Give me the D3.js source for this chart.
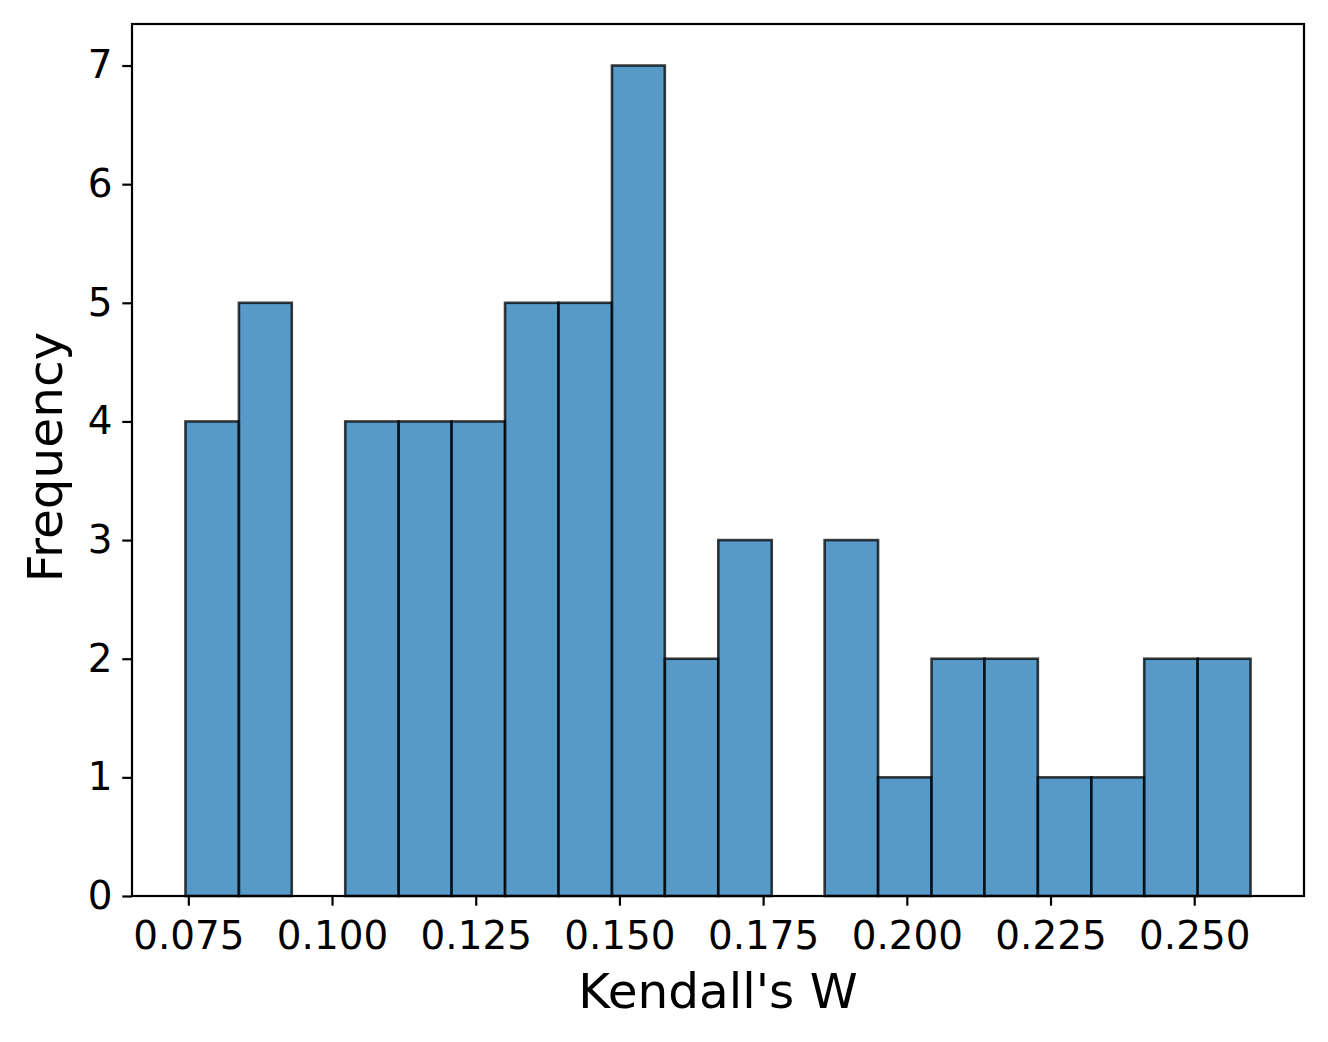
<!DOCTYPE html>
<html>
<head>
<meta charset="utf-8">
<script src="https://cdn.jsdelivr.net/npm/d3@7"></script>
<style>
  html, body { margin: 0; padding: 0; background: #fff; }
  svg { display: block; }
  text { font-family: "DejaVu Sans", sans-serif; fill: #000; }
</style>
</head>
<body>
<svg id="chart" width="1328" height="1042"></svg>
<script>
// Histogram bin edges (21 edges -> 20 bins) and counts
const binEdges = [0.0745, 0.0838, 0.0930, 0.1023, 0.1116, 0.1208, 0.1301, 0.1394, 0.1487, 0.1579,
                  0.1672, 0.1765, 0.1857, 0.1950, 0.2043, 0.2135, 0.2228, 0.2321, 0.2413, 0.2506, 0.2598];
const counts = [4, 5, 0, 4, 4, 4, 5, 5, 7, 2, 3, 0, 3, 1, 2, 2, 1, 1, 2, 2];
const xTicks = [0.075, 0.100, 0.125, 0.150, 0.175, 0.200, 0.225, 0.250];
const yTicks = [0, 1, 2, 3, 4, 5, 6, 7];
const xLabel = "Kendall's W";
const yLabel = "Frequency";

const mLeft = 132, mRight = 1304, mTop = 24, mBottom = 896;
const svg = d3.select("#chart");

const x = d3.scaleLinear().domain([0.0652, 0.2691]).range([mLeft, mRight]);
const y = d3.scaleLinear().domain([0, 7.35]).range([mBottom, mTop]);

const bins = counts.map((c, i) => ({ x0: binEdges[i], x1: binEdges[i + 1], c }));

svg.append("g").selectAll("rect")
  .data(bins.filter(d => d.c > 0))
  .join("rect")
  .attr("x", d => x(d.x0))
  .attr("width", d => x(d.x1) - x(d.x0))
  .attr("y", d => y(d.c))
  .attr("height", d => y(0) - y(d.c))
  .attr("fill", "#1f77b4")
  .attr("fill-opacity", 0.75)
  .attr("stroke", "#000")
  .attr("stroke-opacity", 0.75)
  .attr("stroke-width", 2.6);

// Axes
const fs = 38.9;
const xAxis = d3.axisBottom(x).tickValues(xTicks).tickFormat(d3.format(".3f")).tickSizeOuter(0).tickSize(9.7).tickPadding(15.5);
const yAxis = d3.axisLeft(y).tickValues(yTicks).tickFormat(d3.format("d")).tickSizeOuter(0).tickSize(9.7).tickPadding(9.7);

const gx = svg.append("g").attr("transform", `translate(0,${mBottom})`).call(xAxis);
const gy = svg.append("g").attr("transform", `translate(${mLeft},0)`).call(yAxis);
[gx, gy].forEach(g => {
  g.select(".domain").remove();
  g.selectAll(".tick line").attr("stroke", "#000").attr("stroke-width", 2.2);
  g.selectAll(".tick text").style("font-size", fs + "px").style("font-family", "DejaVu Sans, sans-serif").attr("fill", "#000");
});

// Frame
svg.append("rect")
  .attr("x", mLeft).attr("y", mTop)
  .attr("width", mRight - mLeft).attr("height", mBottom - mTop)
  .attr("fill", "none").attr("stroke", "#000").attr("stroke-width", 2.2);

// Labels
svg.append("text")
  .attr("x", (mLeft + mRight) / 2).attr("y", 1008)
  .attr("text-anchor", "middle")
  .style("font-size", "48.5px")
  .text(xLabel);

svg.append("text")
  .attr("transform", `translate(62,${(mTop + mBottom) / 2 - 3}) rotate(-90)`)
  .attr("text-anchor", "middle")
  .style("font-size", "48.5px")
  .text(yLabel);
</script>
</body>
</html>
